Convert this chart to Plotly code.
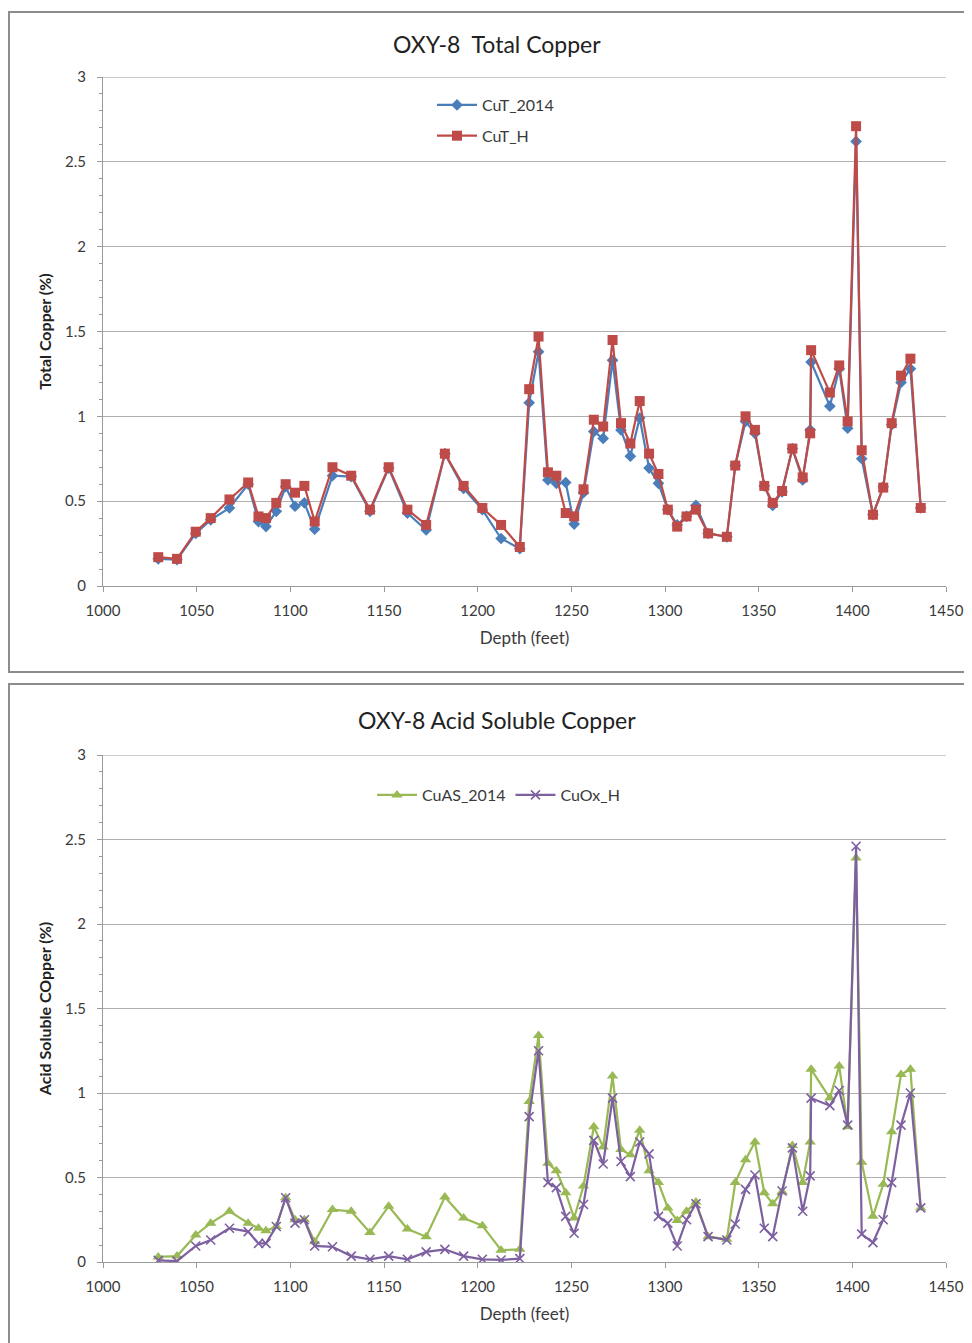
import plotly.graph_objects as go

depth = [1029.5, 1039.5, 1049.5, 1057.5, 1067.5, 1077.5, 1083, 1087, 1092.5, 1097.5,
         1102.5, 1107.5, 1113, 1122.5, 1132.5, 1142.5, 1152.5, 1162.5, 1172.5, 1182.5,
         1192.5, 1202.5, 1212.5, 1222.5, 1227.5, 1232.5, 1237.5, 1242, 1247, 1251.5,
         1256.5, 1262, 1267, 1272, 1276.5, 1281.5, 1286.5, 1291.5, 1296.5, 1301.5,
         1306.5, 1311.5, 1316.5, 1323, 1333, 1337.5, 1343, 1348, 1353, 1357.5,
         1362.5, 1368, 1373.5, 1377.5, 1378, 1388, 1393, 1397.5, 1402, 1405,
         1411, 1416.5, 1421, 1426, 1431, 1436.5]

cut_2014 = [0.16, 0.155, 0.31, 0.39, 0.46, 0.60, 0.38, 0.35, 0.44, 0.585,
            0.47, 0.49, 0.335, 0.65, 0.645, 0.44, 0.695, 0.43, 0.33, 0.78,
            0.575, 0.45, 0.28, 0.22, 1.08, 1.38, 0.625, 0.605, 0.61, 0.365,
            0.55, 0.91, 0.87, 1.33, 0.92, 0.765, 0.99, 0.695, 0.605, 0.45,
            0.36, 0.41, 0.475, 0.31, 0.29, 0.71, 0.97, 0.90, 0.59, 0.475,
            0.555, 0.81, 0.625, 0.92, 1.32, 1.06, 1.28, 0.93, 2.62, 0.75,
            0.42, 0.585, 0.95, 1.20, 1.28, 0.46]

cut_h = [0.17, 0.16, 0.32, 0.40, 0.51, 0.61, 0.41, 0.40, 0.49, 0.60,
         0.55, 0.59, 0.38, 0.70, 0.65, 0.45, 0.70, 0.45, 0.36, 0.78,
         0.59, 0.46, 0.36, 0.23, 1.16, 1.47, 0.67, 0.65, 0.43, 0.41,
         0.57, 0.98, 0.94, 1.45, 0.96, 0.84, 1.09, 0.78, 0.66, 0.45,
         0.35, 0.41, 0.45, 0.31, 0.29, 0.71, 1.00, 0.92, 0.59, 0.49,
         0.56, 0.81, 0.64, 0.90, 1.39, 1.14, 1.30, 0.97, 2.71, 0.80,
         0.42, 0.58, 0.96, 1.24, 1.34, 0.46]

cuas_2014 = [0.03, 0.035, 0.16, 0.23, 0.30, 0.23, 0.20, 0.185, 0.21, 0.38,
             0.25, 0.25, 0.12, 0.31, 0.30, 0.175, 0.33, 0.195, 0.15, 0.385,
             0.26, 0.215, 0.07, 0.075, 0.95, 1.34, 0.585, 0.54, 0.41, 0.26,
             0.45, 0.80, 0.68, 1.10, 0.665, 0.635, 0.78, 0.54, 0.47, 0.32,
             0.245, 0.30, 0.355, 0.15, 0.135, 0.47, 0.605, 0.71, 0.41, 0.345,
             0.415, 0.69, 0.47, 0.71, 1.14, 0.97, 1.16, 0.80, 2.39, 0.59,
             0.27, 0.46, 0.77, 1.11, 1.14, 0.32]

cuox_h = [0.01, 0.005, 0.095, 0.13, 0.20, 0.18, 0.11, 0.11, 0.21, 0.38,
          0.23, 0.25, 0.095, 0.09, 0.035, 0.016, 0.035, 0.016, 0.06, 0.075,
          0.035, 0.016, 0.012, 0.02, 0.86, 1.25, 0.47, 0.44, 0.27, 0.17,
          0.34, 0.72, 0.58, 0.97, 0.595, 0.505, 0.71, 0.64, 0.27, 0.23,
          0.095, 0.25, 0.345, 0.15, 0.13, 0.225, 0.43, 0.515, 0.20, 0.15,
          0.42, 0.675, 0.30, 0.51, 0.97, 0.925, 1.015, 0.81, 2.46, 0.165,
          0.115, 0.25, 0.47, 0.81, 1.00, 0.32]

x_ticks = [1000, 1050, 1100, 1150, 1200, 1250, 1300, 1350, 1400, 1450]
y_ticks = [0, 0.5, 1, 1.5, 2, 2.5, 3]
y_tick_text = ["0", "0.5", "1", "1.5", "2", "2.5", "3"]

W, H = 972, 1343
OFF = 8  # page body margin
FONT = "Lato"
TXT = "#3a3a3a"
GRID = "#b0b0b0"
AX = "#9a9a9a"

fig = go.Figure()

fig.add_trace(go.Scatter(x=depth, y=cut_2014, name="CuT_2014", mode="lines+markers",
                         line=dict(color="#4A7EBB", width=2.2),
                         marker=dict(symbol="diamond", size=9, color="#4A7EBB"),
                         xaxis="x", yaxis="y", legend="legend", legendgroup="a"))
fig.add_trace(go.Scatter(x=depth, y=cut_h, name="CuT_H", mode="lines+markers",
                         line=dict(color="#BE4B48", width=2.2),
                         marker=dict(symbol="square", size=10, color="#BE4B48"),
                         xaxis="x", yaxis="y", legend="legend", legendgroup="b"))
fig.add_trace(go.Scatter(x=depth, y=cuas_2014, name="CuAS_2014", mode="lines+markers",
                         line=dict(color="#98B954", width=2.2),
                         marker=dict(symbol="triangle-up", size=10, color="#98B954"),
                         xaxis="x2", yaxis="y2", legend="legend2"))
fig.add_trace(go.Scatter(x=depth, y=cuox_h, name="CuOx_H", mode="lines+markers",
                         line=dict(color="#7D60A0", width=2.2),
                         marker=dict(symbol="x-thin", size=9, color="#7D60A0",
                                     line=dict(color="#7D60A0", width=1.6)),
                         xaxis="x2", yaxis="y2", legend="legend2"))


def px_x(p):
    return (p - OFF) / W


def px_y(p):
    return 1 - (p - OFF) / H


def xaxis(anchor):
    return dict(domain=[px_x(103), px_x(946)], range=[1000, 1450], tickvals=x_ticks,
                ticks="outside", ticklen=5, tickcolor=AX, showline=True, linecolor=AX,
                linewidth=1, showgrid=False, zeroline=False, anchor=anchor, automargin=False,
                ticklabelstandoff=6,
                tickfont=dict(family=FONT, size=15, color=TXT),
                title=dict(text="Depth (feet)", font=dict(family=FONT, size=17, color=TXT),
                           standoff=14))


def yaxis(anchor, d0, d1, title):
    return dict(domain=[px_y(d1), px_y(d0)], range=[0, 3], tickvals=y_ticks,
                ticktext=y_tick_text, ticks="outside", ticklen=5, tickcolor=AX,
                showline=True, linecolor=AX, linewidth=1, showgrid=True, gridcolor=GRID,
                gridwidth=1, zeroline=False, anchor=anchor, automargin=False,
                ticklabelstandoff=8,
                minor=dict(dtick=0.1, ticks="outside", ticklen=3, tickcolor=AX, showgrid=False),
                tickfont=dict(family=FONT, size=15, color=TXT),
                title=dict(text=title, font=dict(family=FONT, size=16, color="#222", weight="bold"),
                           standoff=9))


fig.update_layout(
    width=W, height=H, margin=dict(l=0, r=0, t=0, b=0, autoexpand=False),
    paper_bgcolor="white", plot_bgcolor="white",
    xaxis=xaxis("y"), yaxis=yaxis("x", 77, 586, "Total Copper (%)"),
    xaxis2=xaxis("y2"), yaxis2=yaxis("x2", 755, 1262, "Acid Soluble COpper (%)"),
    legend=dict(x=px_x(432), y=px_y(88), xanchor="left", yanchor="top", itemwidth=40,
                font=dict(family=FONT, size=16, color=TXT), traceorder="grouped",
                tracegroupgap=7, bgcolor="rgba(0,0,0,0)"),
    legend2=dict(x=px_x(372), y=px_y(778), xanchor="left", yanchor="top", itemwidth=40,
                 orientation="h", font=dict(family=FONT, size=16, color=TXT),
                 bgcolor="rgba(0,0,0,0)"),
    showlegend=True,
    annotations=[
        dict(text="OXY-8  Total Copper", x=px_x(497), y=px_y(44), xref="paper", yref="paper",
             xanchor="center", yanchor="middle", showarrow=False,
             font=dict(family=FONT, size=23, color="#222")),
        dict(text="OXY-8 Acid Soluble Copper", x=px_x(497), y=px_y(720), xref="paper",
             yref="paper", xanchor="center", yanchor="middle", showarrow=False,
             font=dict(family=FONT, size=23, color="#222")),
    ],
    shapes=[
        dict(type="rect", xref="paper", yref="paper", x0=0.001, x1=1.02,
             y0=px_y(672), y1=px_y(12), line=dict(color="#8c8c8c", width=2)),
        dict(type="rect", xref="paper", yref="paper", x0=0.001, x1=1.02,
             y0=-0.02, y1=px_y(684), line=dict(color="#8c8c8c", width=2)),
        dict(type="line", xref="paper", yref="y", x0=px_x(103), x1=px_x(946), y0=3, y1=3,
             line=dict(color="#9a9a9a", width=1.2), layer="below"),
        dict(type="line", xref="paper", yref="y2", x0=px_x(103), x1=px_x(946), y0=3, y1=3,
             line=dict(color="#9a9a9a", width=1.2), layer="below"),
    ],
)

fig.write_html("out.html")
